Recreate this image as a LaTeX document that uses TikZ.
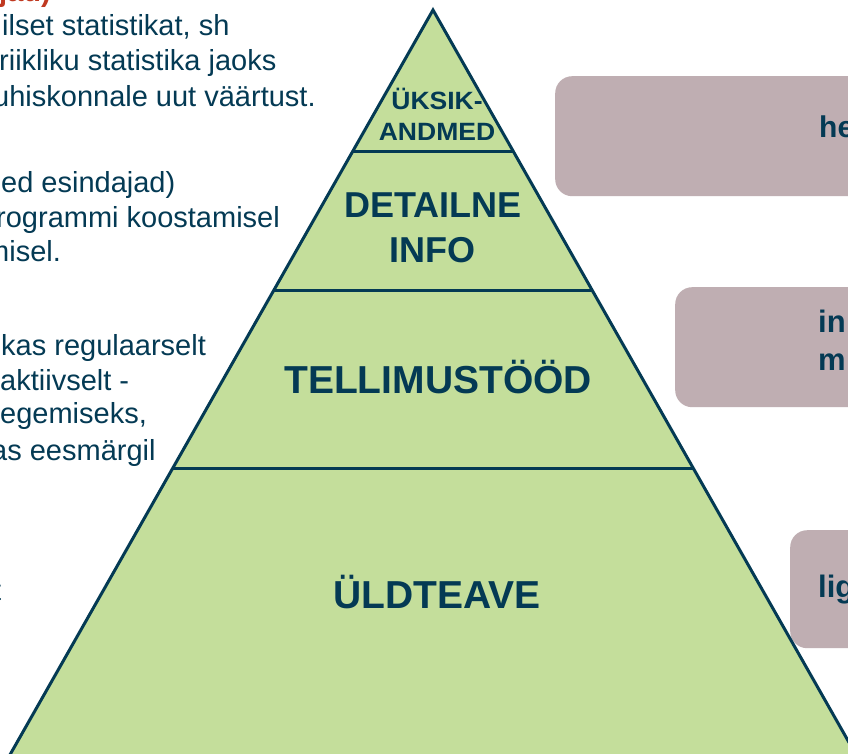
\documentclass[tikz,border=0pt]{standalone}
\usepackage{fontspec}
\setmainfont{Liberation Sans}
\definecolor{pyrfill}{RGB}{196,222,155}
\definecolor{navy}{RGB}{4,58,84}
\definecolor{boxfill}{RGB}{191,174,178}
\definecolor{redtxt}{RGB}{192,57,33}
\begin{document}
\begin{tikzpicture}[x=1pt,y=-1pt,
  body/.style={anchor=base west, inner sep=0pt, text=navy, font=\fontsize{29}{34}\selectfont},
  redbody/.style={anchor=base west, inner sep=0pt, text=redtxt, font=\bfseries\fontsize{29}{34}\selectfont},
  lvl/.style={anchor=base, inner sep=0pt, text=navy, font=\bfseries\fontsize{#1}{#1}\selectfont},
  sidebox/.style={fill=boxfill, rounded corners=17pt, inner sep=0pt, anchor=north west},
  boxtxt/.style={anchor=base west, inner sep=0pt, text=navy, font=\bfseries\fontsize{#1}{#1}\selectfont},
  edge/.style={draw=navy, line width=3pt}]
\path[use as bounding box, clip] (0,0) rectangle (848,754);
\fill[white] (0,0) rectangle (848,754);

% side boxes
\node[sidebox, minimum width=340pt, minimum height=120pt] (box1) at (555,76) {};
\node[sidebox, minimum width=220pt, minimum height=120pt] (box2) at (675,287) {};
\node[sidebox, minimum width=100pt, minimum height=118pt] (box3) at (790,530) {};
\node[boxtxt=30] (t1) at (819,138) {he};
\node[boxtxt=31] (t2a) at (818,332) {in};
\node[boxtxt=31] (t2b) at (818,370) {m};
\node[boxtxt=31] (t3) at (818,597) {lig};

% pyramid
\coordinate (apex) at (433,10);
\coordinate (bl) at (7,760);
\coordinate (br) at (859,760);
\fill[pyrfill] (apex) -- (bl) -- (br) -- cycle;
\begin{scope}
  \clip (apex) -- (bl) -- (br) -- cycle;
  \coordinate (l1a) at (0,152); \coordinate (l1b) at (848,152);
  \coordinate (l2a) at (0,290); \coordinate (l2b) at (848,290);
  \coordinate (l3a) at (0,468); \coordinate (l3b) at (848,468);
  \draw[edge] (l1a) -- (l1b);
  \draw[edge] (l2a) -- (l2b);
  \draw[edge] (l3a) -- (l3b);
\end{scope}
\draw[edge, line join=miter] (apex) -- (bl) -- (br) -- cycle;

% level labels
\node[lvl=25] (uk1) at (437,110) {\scalebox{1.06}[1]{ÜKSIK-}};
\node[lvl=25] (uk2) at (437,141) {\scalebox{1.06}[1]{ANDMED}};
\node[lvl=36] (de1) at (433,217) {DETAILNE};
\node[lvl=36] (de2) at (432,262) {INFO};
\node[lvl=39] (tel) at (438,393) {TELLIMUSTÖÖD};
\node[lvl=39] (uld) at (437,608) {ÜLDTEAVE};

% left texts
\node[redbody] (r0) at (-1,2) {jad)};
\node[body] (a1) at (2,36) {ilset statistikat, sh};
\node[body] (a2) at (-1,71) {riikliku statistika jaoks};
\node[body] (a3) at (-7,107) {uhiskonnale uut väärtust.};
\node[body] (b1) at (1,193) {ed esindajad)};
\node[body] (b2) at (-4,227) {rogrammi koostamisel};
\node[body] (b3) at (-15,261) {misel.};
\node[body] (c1) at (1,355) { kas regulaarselt};
\node[body] (c2) at (0,390) {aktiivselt -};
\node[body] (c3) at (0,423) {egemiseks,};
\node[body] (c4) at (-9,460) {as eesmärgil};
\node[body] (d1) at (-7,600) {t};
\end{tikzpicture}
\end{document}
